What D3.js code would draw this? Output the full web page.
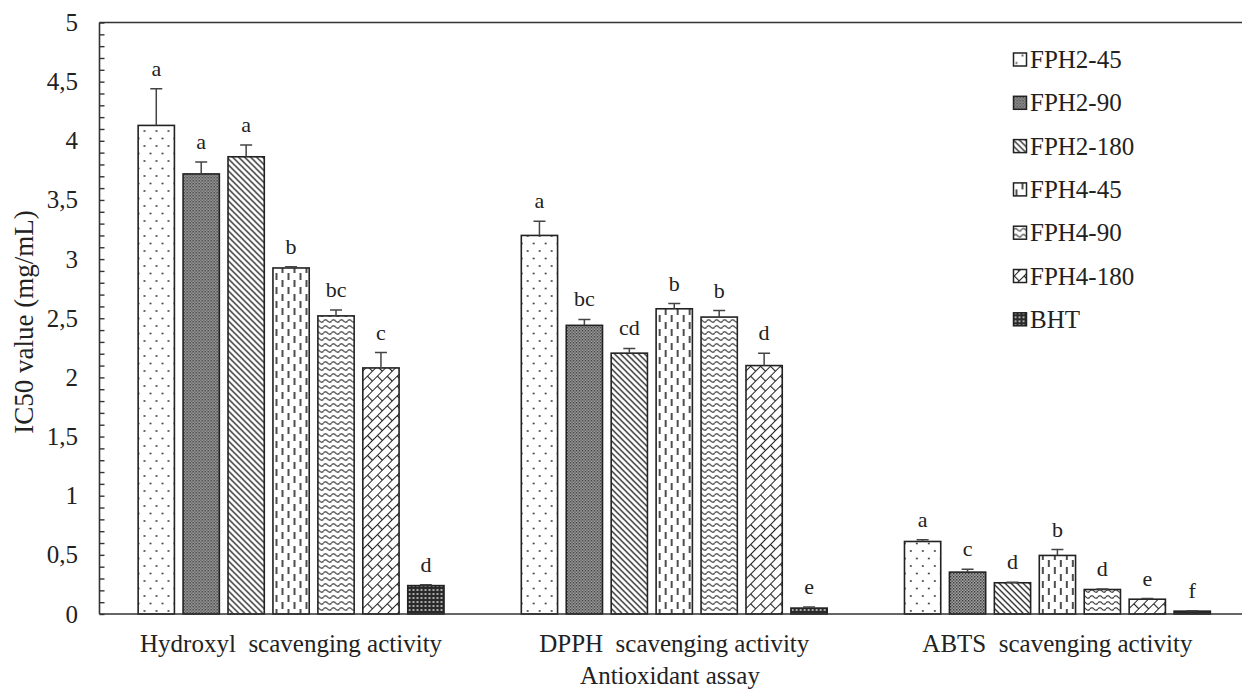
<!DOCTYPE html>
<html>
<head>
<meta charset="utf-8">
<script src="https://cdn.jsdelivr.net/npm/d3@7"></script>
<style>
  html, body { margin: 0; padding: 0; background: #fff; }
  svg { display: block; }
  text { font-family: "Liberation Serif", "Times New Roman", serif; fill: #222; }
</style>
</head>
<body>
<svg id="chart" width="1242" height="690"></svg>
<script>
// ---- data ----
const categories = ["Hydroxyl  scavenging activity", "DPPH  scavenging activity", "ABTS  scavenging activity"];
const series = ["FPH2-45", "FPH2-90", "FPH2-180", "FPH4-45", "FPH4-90", "FPH4-180", "BHT"];
const hydroxylValues = [4.13, 3.72, 3.865, 2.925, 2.52, 2.08, 0.24];
const hydroxylErrors = [0.31, 0.10, 0.10, 0.01, 0.05, 0.13, 0.008];
const dpphValues = [3.20, 2.44, 2.205, 2.58, 2.51, 2.10, 0.05];
const dpphErrors = [0.12, 0.05, 0.04, 0.045, 0.055, 0.105, 0.01];
const abtsValues = [0.613, 0.354, 0.264, 0.495, 0.207, 0.125, 0.024];
const abtsErrors = [0.015, 0.025, 0.005, 0.05, 0.005, 0.005, 0.003];
const hydroxylLetters = ["a", "a", "a", "b", "bc", "c", "d"];
const dpphLetters = ["a", "bc", "cd", "b", "b", "d", "e"];
const abtsLetters = ["a", "c", "d", "b", "d", "e", "f"];
const yTicks = [0, 0.5, 1, 1.5, 2, 2.5, 3, 3.5, 4, 4.5, 5];

(function () {
const groups = [
  { name: categories[0], values: hydroxylValues, errors: hydroxylErrors, letters: hydroxylLetters },
  { name: categories[1], values: dpphValues, errors: dpphErrors, letters: dpphLetters },
  { name: categories[2], values: abtsValues, errors: abtsErrors, letters: abtsLetters }
];

// ---- layout ----
const W = 1242, H = 690;
const mLeft = 99.5, mTop = 22.5, mBottom = 614, mRight = 1249;
const svg = d3.select("#chart");

const y = d3.scaleLinear().domain([0, 5]).range([mBottom, mTop]);
const x0 = d3.scaleBand().domain(categories).range([mLeft, mRight]);
const x1 = d3.scaleBand().domain(series).range([0, x0.bandwidth()]).paddingInner(0.193).paddingOuter(0.86);

// ---- patterns ----
const defs = svg.append("defs");
function pat(id, w, h, bg) {
  const p = defs.append("pattern").attr("id", id).attr("patternUnits", "userSpaceOnUse")
    .attr("width", w).attr("height", h);
  p.append("rect").attr("width", w).attr("height", h).attr("fill", bg);
  return p;
}
// FPH2-45: sparse staggered dots
{
  const p = pat("p0", 12, 15, "#fff");
  p.append("circle").attr("cx", 3).attr("cy", 3.5).attr("r", 0.9).attr("fill", "#222");
  p.append("circle").attr("cx", 9).attr("cy", 11).attr("r", 0.9).attr("fill", "#222");
}
// FPH2-90: dense dark dots (gray)
{
  const p = pat("p1", 3, 3, "#adadad");
  p.append("rect").attr("x", 0).attr("y", 0).attr("width", 1.5).attr("height", 1.5).attr("fill", "#333");
  p.append("rect").attr("x", 1.5).attr("y", 1.5).attr("width", 1.5).attr("height", 1.5).attr("fill", "#555");
}
// FPH2-180: diagonal lines "\"
{
  const p = pat("p2", 6, 6, "#fff");
  p.append("path").attr("d", "M-1,-1 L7,7 M-1,5 L1,7 M5,-1 L7,1").attr("stroke", "#222").attr("stroke-width", 1.3);
}
// FPH4-45: vertical dashes, staggered
{
  const p = pat("p3", 12, 14, "#fff");
  p.append("path").attr("d", "M3,0 L3,7 M9,7 L9,14").attr("stroke", "#222").attr("stroke-width", 1.6);
}
// FPH4-90: horizontal waves
{
  const p = pat("p4", 8, 6, "#fff");
  p.append("path").attr("d", "M0,3 Q2,0.5 4,3 T8,3").attr("fill", "none").attr("stroke", "#222").attr("stroke-width", 1.2);
}
// FPH4-180: diagonal brick
{
  const p = pat("p5", 14, 14, "#fff").attr("patternTransform", "rotate(-45)");
  p.append("path").attr("d", "M0,0.5 L14,0.5 M0.5,0 L0.5,7 M7.5,7 L7.5,14 M0,7.5 L14,7.5")
    .attr("stroke", "#222").attr("stroke-width", 1.2).attr("fill", "none");
}
// BHT: dark grid with light squares
{
  const p = pat("p6", 4, 4, "#2a2a2a");
  p.append("rect").attr("x", 1).attr("y", 1).attr("width", 2).attr("height", 2).attr("fill", "#aaa");
}
const fills = series.map((s, i) => `url(#p${i})`);

// ---- frame / axes ----
svg.append("line").attr("x1", mLeft).attr("x2", W).attr("y1", mTop).attr("y2", mTop)
  .attr("stroke", "#333").attr("stroke-width", 1.6);

const yAxis = d3.axisRight(y).tickValues(d3.range(0, 51).map(d => d / 10)).tickSize(5).tickFormat("");
const ya = svg.append("g").attr("transform", `translate(${mLeft},0)`).call(yAxis);
ya.select(".domain").remove();
ya.selectAll(".tick line").attr("stroke", "#333").attr("stroke-width", 1.4);

const fmt = d => String(d).replace(".", ",");
svg.append("g").selectAll("text").data(yTicks).join("text")
  .attr("x", 78).attr("y", d => y(d)).attr("text-anchor", "end")
  .attr("dominant-baseline", "central").attr("font-size", 25).text(fmt);

// ---- bars ----
const g = svg.append("g").selectAll("g").data(groups).join("g")
  .attr("transform", d => `translate(${x0(d.name)},0)`);

const items = g.selectAll("g.bar").data(d => series.map((s, i) => ({
  s, i, v: d.values[i], e: d.errors[i], l: d.letters[i]
}))).join("g").attr("class", "bar");

items.append("rect")
  .attr("x", d => x1(d.s)).attr("width", x1.bandwidth())
  .attr("y", d => y(d.v)).attr("height", d => mBottom - y(d.v))
  .attr("fill", d => fills[d.i]).attr("stroke", "#222").attr("stroke-width", 1.6);

items.append("path")
  .attr("d", d => {
    const cx = x1(d.s) + x1.bandwidth() / 2;
    return `M${cx},${y(d.v)} L${cx},${y(d.v + d.e)} M${cx - 6},${y(d.v + d.e)} L${cx + 6},${y(d.v + d.e)}`;
  })
  .attr("stroke", "#444").attr("stroke-width", 1.5).attr("fill", "none");

items.append("text")
  .attr("x", d => x1(d.s) + x1.bandwidth() / 2)
  .attr("y", d => y(d.v + d.e) - 18)
  .attr("text-anchor", "middle").attr("dominant-baseline", "middle")
  .attr("font-size", 22).text(d => d.l);

// baseline axis
svg.append("line").attr("x1", mLeft).attr("x2", W).attr("y1", mBottom).attr("y2", mBottom)
  .attr("stroke", "#333").attr("stroke-width", 1.6);
svg.append("line").attr("x1", mLeft).attr("x2", mLeft).attr("y1", mTop).attr("y2", mBottom)
  .attr("stroke", "#333").attr("stroke-width", 1.6);

// category labels
svg.append("g").selectAll("text").data(categories).join("text")
  .attr("x", d => x0(d) + x0.bandwidth() / 2).attr("y", 652)
  .attr("text-anchor", "middle").attr("font-size", 25)
  .style("white-space", "pre").text(d => d);

// axis titles
svg.append("text").attr("x", 670).attr("y", 684)
  .attr("text-anchor", "middle").attr("font-size", 25).text("Antioxidant assay");
svg.append("text").attr("transform", `translate(24,322) rotate(-90)`)
  .attr("text-anchor", "middle").attr("dominant-baseline", "central")
  .attr("font-size", 27).text("IC50 value (mg/mL)");

// legend
const lg = svg.append("g").selectAll("g").data(series).join("g")
  .attr("transform", (d, i) => `translate(1013.5,${59.5 + i * 43.3})`);
lg.append("rect").attr("x", 0).attr("y", -6.5).attr("width", 13).attr("height", 13)
  .attr("fill", (d, i) => fills[i]).attr("stroke", "#222").attr("stroke-width", 1.5);
lg.append("text").attr("x", 16.5).attr("y", 0).attr("dominant-baseline", "central")
  .attr("font-size", 25).text(d => d);
})();
</script>
</body>
</html>
